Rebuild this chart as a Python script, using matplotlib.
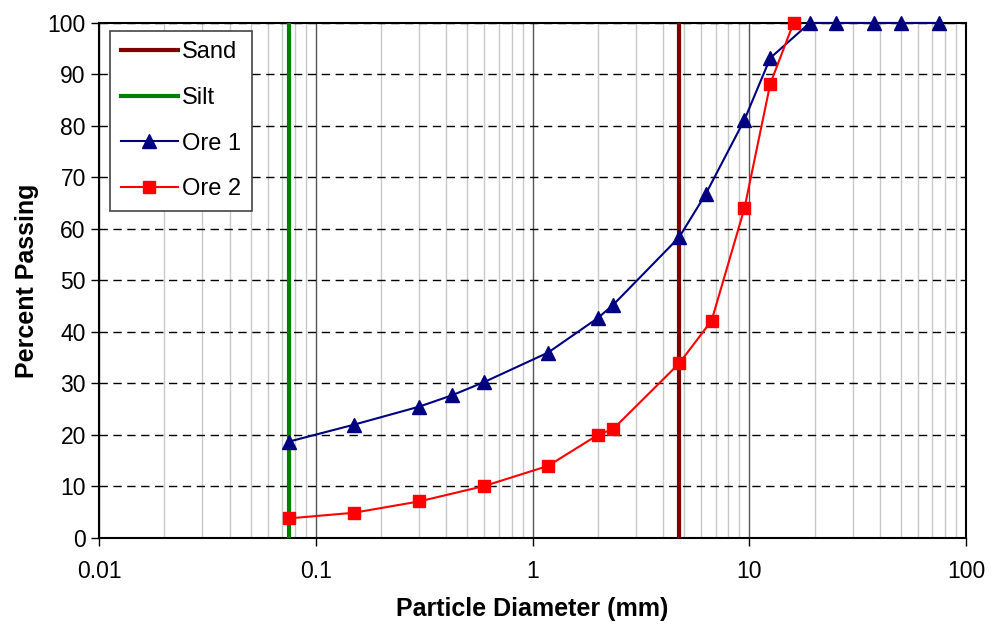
import matplotlib
matplotlib.use("Agg")
import matplotlib.pyplot as plt
from matplotlib.ticker import LogLocator, NullFormatter, FixedLocator

plt.rcParams['font.family'] = ['Liberation Sans', 'DejaVu Sans']

# sieve data
ore1_d = [0.075, 0.15, 0.3, 0.425, 0.6, 1.18, 2.0, 2.36, 4.75, 6.3, 9.5, 12.5, 19, 25, 37.5, 50, 75]
ore1_p = [18.7, 22.0, 25.5, 27.7, 30.3, 36.0, 42.7, 45.3, 58.4, 66.8, 81.2, 93.2, 100, 100, 100, 100, 100]
ore2_d = [0.075, 0.15, 0.3, 0.6, 1.18, 2.0, 2.36, 4.75, 6.7, 9.5, 12.5, 16]
ore2_p = [3.8, 4.9, 7.1, 10.1, 14.0, 20.0, 21.2, 33.9, 42.2, 64.0, 88.2, 100]
sand_d = 4.75
silt_d = 0.075

fig = plt.figure(figsize=(9.91, 6.26), dpi=100)
ax = fig.add_axes([0.0999, 0.1406, 0.8749, 0.8227])

ax.plot([sand_d, sand_d], [0, 100], color='#800000', lw=3, label='Sand', zorder=3)
ax.plot([silt_d, silt_d], [0, 100], color='#008000', lw=3, label='Silt', zorder=3)
ax.plot(ore1_d, ore1_p, color='#000080', lw=1.5, marker='^', ms=10, label='Ore 1', zorder=4, clip_on=False)
ax.plot(ore2_d, ore2_p, color='#ff0000', lw=1.5, marker='s', ms=9, label='Ore 2', zorder=4, clip_on=False)

ax.set_xscale('log')
ax.set_xlim(0.01, 100)
ax.set_ylim(0, 100)
ax.xaxis.set_major_locator(FixedLocator([0.01, 0.1, 1, 10, 100]))
ax.set_xticklabels(['0.01', '0.1', '1', '10', '100'])
ax.xaxis.set_minor_locator(LogLocator(base=10, subs=range(2, 10)))
ax.xaxis.set_minor_formatter(NullFormatter())
ax.set_yticks(range(0, 101, 10))

ax.grid(True, which='major', axis='x', color='#555555', lw=1)
ax.grid(True, which='minor', axis='x', color='#c8c8c8', lw=1)
ax.grid(True, which='major', axis='y', color='black', lw=1, ls=(0, (6, 4)))
ax.set_axisbelow(True)

ax.tick_params(axis='both', which='major', direction='out', length=6, labelsize=16.5, width=1)
ax.tick_params(axis='x', which='minor', length=0)
ax.tick_params(axis='x', pad=10)
for s in ax.spines.values():
    s.set_linewidth(1.5)

ax.set_xlabel('Particle Diameter (mm)', fontsize=18, fontweight='bold', labelpad=10)
ax.set_ylabel('Percent Passing', fontsize=18, fontweight='bold', labelpad=6)

leg = ax.legend(loc='upper left', bbox_to_anchor=(0.013, 0.985), fontsize=17, fancybox=False,
                edgecolor='#444444', framealpha=1, handlelength=2.4, borderpad=0.45,
                labelspacing=1.0, handletextpad=0.2, borderaxespad=0)
leg.get_frame().set_linewidth(1.2)

fig.savefig('out.png', dpi=100)
